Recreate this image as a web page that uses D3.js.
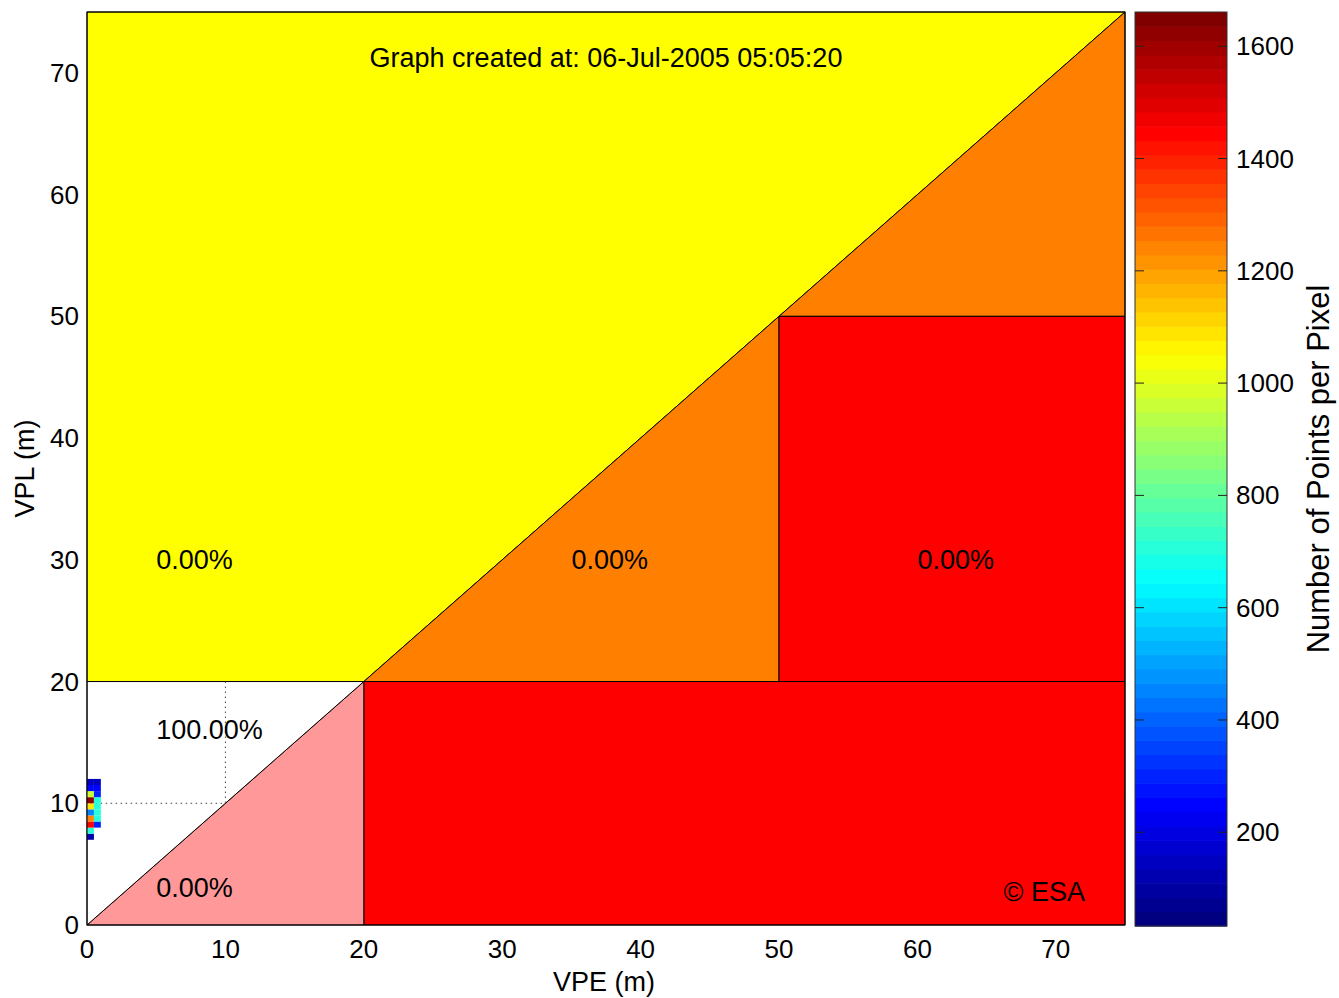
<!DOCTYPE html>
<html><head><meta charset="utf-8">
<script src="https://cdn.jsdelivr.net/npm/d3@7/dist/d3.min.js"></script>
<style>
html,body{margin:0;padding:0;background:#fff;}
text{font-family:"Liberation Sans",Arial,sans-serif;fill:#000;}
</style></head>
<body>
<svg id="chart" width="1339" height="998"></svg>
<script>
// ---- data ----
const xTicks = [0, 10, 20, 30, 40, 50, 60, 70];
const yTicks = [0, 10, 20, 30, 40, 50, 60, 70];
const cbTicks = [200, 400, 600, 800, 1000, 1200, 1400, 1600];
const axisDomain = [0, 75];
const cbDomain = [33, 1661];

// Stanford-plot regions (VPE, VPL vertices in metres) and fill colours
const regionPolys = [
  [[0,20],[20,20],[75,75],[0,75]],
  [[20,20],[50,20],[50,50]],
  [[50,50],[75,50],[75,75]],
  [[50,20],[75,20],[75,50],[50,50]],
  [[20,0],[75,0],[75,20],[20,20]],
  [[0,0],[20,0],[20,20]],
  [[0,0],[20,20],[0,20]]
];
const regionColors = ["#ffff00", "#ff8000", "#ff8000", "#ff0000", "#ff0000", "#ff9999", "#ffffff"];

// region percentage labels
const labelTexts = ["0.00%", "0.00%", "0.00%", "100.00%", "0.00%"];
const labelX = [5, 35, 60, 5, 5];
const labelY = [30, 30, 30, 16, 3];

// alert limits (dotted guide)
const alertVPE = 10, alertVPL = 10, alertTop = 20;

// heat-map cells (0.5 m bins), counts per pixel
const cellSize = 0.5;
const col0VPE = 0.0;
const col0VPL = [7.0, 7.5, 8.0, 8.5, 9.0, 9.5, 10.0, 10.5, 11.0, 11.5];
const col0Val = [120, 700, 1450, 1250, 450, 1100, 1620, 950, 250, 150];
const col1VPE = 0.5;
const col1VPL = [8.0, 8.5, 9.0, 9.5, 10.0, 10.5, 11.0, 11.5];
const col1Val = [300, 700, 700, 700, 700, 300, 250, 150];

const titleText = "Graph created at: 06-Jul-2005 05:05:20";
const xLabel = "VPE (m)", yLabel = "VPL (m)", cbLabel = "Number of Points per Pixel";
const credit = "\u00A9 ESA";

// ---- layout ----
const L = 87, R = 1125, T = 12, B = 925;
const cbL = 1135, cbR = 1227, cbT = 12, cbB = 926;
const FS = 26, FS2 = 27;

const svg = d3.select("#chart");
const x = d3.scaleLinear().domain(axisDomain).range([L, R]);
const y = d3.scaleLinear().domain(axisDomain).range([B, T]);

// MATLAB jet(64)
function jet(t) {
  const n = 64;
  const k = Math.min(n - 1, Math.max(0, Math.floor(t * n)));
  const u = k / (n - 1);
  const c = v => Math.round(255 * Math.max(0, Math.min(1, v)));
  return d3.rgb(c(1.5 - Math.abs(4*u - 3)), c(1.5 - Math.abs(4*u - 2)), c(1.5 - Math.abs(4*u - 1))).toString();
}
const cnorm = d3.scaleLinear().domain(cbDomain).range([0, 0.99999]).clamp(true);
const color = v => jet(cnorm(v));

// regions
const line = d3.line().x(d => x(d[0])).y(d => y(d[1]));
svg.append("g").selectAll("path").data(regionPolys).join("path")
  .attr("d", d => line(d) + "Z")
  .attr("fill", (d, i) => regionColors[i])
  .attr("stroke", "#000").attr("stroke-width", 1).attr("stroke-linejoin", "miter");

// dotted alert-limit guides
svg.append("path")
  .attr("d", line([[alertVPE, alertTop], [alertVPE, alertVPL], [0, alertVPL]]))
  .attr("fill", "none").attr("stroke", "#444").attr("stroke-width", 1).attr("stroke-dasharray", "1.5,3.5");

// heat cells
const cells = [];
col0VPL.forEach((v, i) => cells.push({vpe: col0VPE, vpl: v, val: col0Val[i]}));
col1VPL.forEach((v, i) => cells.push({vpe: col1VPE, vpl: v, val: col1Val[i]}));
svg.append("g").selectAll("rect").data(cells).join("rect")
  .attr("x", d => x(d.vpe)).attr("y", d => y(d.vpl + cellSize))
  .attr("width", d => x(d.vpe + cellSize) - x(d.vpe))
  .attr("height", d => y(d.vpl) - y(d.vpl + cellSize))
  .attr("fill", d => color(d.val));

// frame
svg.append("rect").attr("x", L).attr("y", T).attr("width", R - L).attr("height", B - T)
  .attr("fill", "none").attr("stroke", "#000").attr("stroke-width", 1);

// tick labels
svg.append("g").selectAll("text").data(xTicks).join("text")
  .attr("x", d => x(d)).attr("y", B + 33).attr("text-anchor", "middle")
  .attr("font-size", FS).text(d => d);
svg.append("g").selectAll("text").data(yTicks).join("text")
  .attr("x", L - 8).attr("y", d => y(d) + 9).attr("text-anchor", "end")
  .attr("font-size", FS).text(d => d);

// region labels
svg.append("g").selectAll("text").data(labelTexts).join("text")
  .attr("x", (d, i) => x(labelX[i])).attr("y", (d, i) => y(labelY[i]) + 9)
  .attr("font-size", FS2).text(d => d);

// title & credit
svg.append("text").attr("x", (L + R) / 2).attr("y", 67).attr("text-anchor", "middle")
  .attr("font-size", FS2).text(titleText);
svg.append("text").attr("x", R - 40).attr("y", 901).attr("text-anchor", "end")
  .attr("font-size", FS2).text(credit);

// axis labels
svg.append("text").attr("x", (L + R) / 2 - 2).attr("y", 991).attr("text-anchor", "middle")
  .attr("font-size", FS2).text(xLabel);
svg.append("text").attr("transform", `translate(34,${(T + B) / 2}) rotate(-90)`)
  .attr("text-anchor", "middle").attr("font-size", FS2).text(yLabel);

// colorbar
const cy = d3.scaleLinear().domain(cbDomain).range([cbB, cbT]);
const nLev = 64;
const levels = d3.range(nLev);
svg.append("g").selectAll("rect").data(levels).join("rect")
  .attr("x", cbL)
  .attr("y", k => cbB - (k + 1) * (cbB - cbT) / nLev)
  .attr("width", cbR - cbL)
  .attr("height", (cbB - cbT) / nLev + 0.6)
  .attr("fill", k => jet((k + 0.5) / nLev));
svg.append("rect").attr("x", cbL).attr("y", cbT).attr("width", cbR - cbL).attr("height", cbB - cbT)
  .attr("fill", "none").attr("stroke", "#333").attr("stroke-width", 1);
const cbt = svg.append("g").selectAll("g").data(cbTicks).join("g");
cbt.append("line").attr("x1", cbL).attr("x2", cbL + 9).attr("y1", d => cy(d)).attr("y2", d => cy(d))
  .attr("stroke", "#222").attr("stroke-width", 1);
cbt.append("line").attr("x1", cbR - 9).attr("x2", cbR).attr("y1", d => cy(d)).attr("y2", d => cy(d))
  .attr("stroke", "#222").attr("stroke-width", 1);
cbt.append("text").attr("x", cbR + 9).attr("y", d => cy(d) + 9).attr("font-size", FS).text(d => d);
svg.append("text").attr("transform", `translate(1329,${469}) rotate(-90)`)
  .attr("text-anchor", "middle").attr("font-size", 31).text(cbLabel);
</script>
</body></html>
